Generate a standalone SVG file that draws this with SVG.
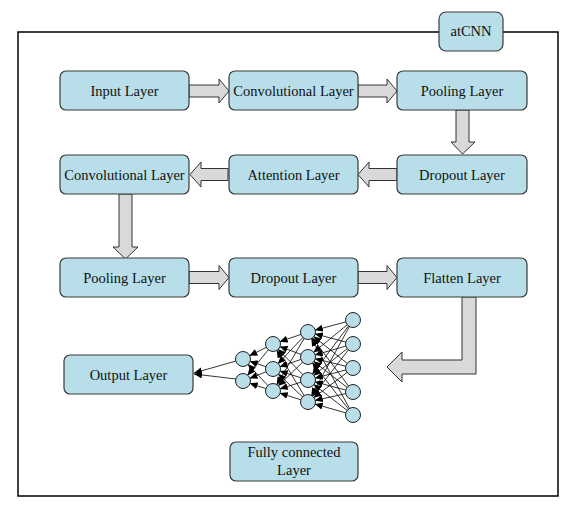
<svg xmlns="http://www.w3.org/2000/svg" width="582" height="509" viewBox="0 0 582 509">
<style>
.box{fill:#b8dfe9;stroke:#3a3a3a;stroke-width:1.2}
.lbl{font-family:"Liberation Serif","Times New Roman",serif;font-size:14.5px;fill:#111;text-anchor:middle}
.blk{fill:#d9d9d9;stroke:#333;stroke-width:1}
#nn-edges line{stroke:#000;stroke-width:0.8;marker-end:url(#nh)}
.o{stroke:#000;stroke-width:0.8;fill:none;marker-end:url(#oh)}
.n{fill:#b8dfe9;stroke:#222;stroke-width:1}
</style>
<defs>
<marker id="nh" markerUnits="userSpaceOnUse" markerWidth="10" markerHeight="8" refX="15" refY="3.5" orient="auto"><path d="M0,0 L8,3.5 L0,7 Z" fill="#000"/></marker>
<marker id="oh" markerUnits="userSpaceOnUse" markerWidth="10" markerHeight="8" refX="8" refY="3.5" orient="auto"><path d="M0,0 L8,3.5 L0,7 Z" fill="#000"/></marker>
</defs>
<rect x="0" y="0" width="582" height="509" fill="#fff"/>
<rect id="frame" x="18" y="32" width="540" height="464" fill="none" stroke="#000" stroke-width="1.5"/>
<g id="atcnn"><rect class="box" x="439" y="12" width="64" height="39" rx="7"/><text class="lbl" x="471" y="36">atCNN</text></g>

<g id="connectors">
<path class="blk" d="M189,85 H219 V79 L229,91 L219,103 V97 H189 Z"/>
<path class="blk" d="M358,85 H387 V79 L397,91 L387,103 V97 H358 Z"/>
<path class="blk" d="M456,110 V142 H451 L462.5,154 L475,142 H469 V110 Z"/>
<path class="blk" d="M397,168.5 H369 V162 L358,174.5 L369,187 V180.5 H397 Z"/>
<path class="blk" d="M228,168.5 H201 V162 L190,174.5 L201,187 V180.5 H228 Z"/>
<path class="blk" d="M119,194 V247 H113 L125.5,259 L138,247 H132 V194 Z"/>
<path class="blk" d="M189,271.5 H219 V265.5 L229,277.5 L219,289.5 V283.5 H189 Z"/>
<path class="blk" d="M358,271.5 H387 V265.5 L397,277.5 L387,289.5 V283.5 H358 Z"/>
<path class="blk" d="M462,297 V360 H402 V352 L387,367 L402,382 V374 H476 V297 Z"/>
</g>

<g id="input"><rect class="box" x="60" y="71" width="129" height="39" rx="6"/><text class="lbl" x="124.5" y="95.5">Input Layer</text></g>
<g id="conv1"><rect class="box" x="229" y="71" width="129" height="39" rx="6"/><text class="lbl" x="293.5" y="95.5">Convolutional Layer</text></g>
<g id="pool1"><rect class="box" x="397" y="71" width="130" height="39" rx="6"/><text class="lbl" x="462" y="95.5">Pooling Layer</text></g>
<g id="conv2"><rect class="box" x="60" y="155" width="129" height="39" rx="6"/><text class="lbl" x="124.5" y="179.5">Convolutional Layer</text></g>
<g id="attention"><rect class="box" x="229" y="155" width="129" height="39" rx="6"/><text class="lbl" x="293.5" y="179.5">Attention Layer</text></g>
<g id="drop1"><rect class="box" x="397" y="155" width="130" height="39" rx="6"/><text class="lbl" x="462" y="179.5">Dropout Layer</text></g>
<g id="pool2"><rect class="box" x="60" y="258" width="129" height="39" rx="6"/><text class="lbl" x="124.5" y="282.5">Pooling Layer</text></g>
<g id="drop2"><rect class="box" x="229" y="258" width="129" height="39" rx="6"/><text class="lbl" x="293.5" y="282.5">Dropout Layer</text></g>
<g id="flatten"><rect class="box" x="397" y="258" width="130" height="39" rx="6"/><text class="lbl" x="462" y="282.5">Flatten Layer</text></g>
<g id="output"><rect class="box" x="64" y="355" width="129" height="39" rx="6"/><text class="lbl" x="128.5" y="379.5">Output Layer</text></g>
<g id="fc"><rect class="box" x="230" y="442" width="128" height="39" rx="6"/><text class="lbl" x="294" y="457">Fully connected</text><text class="lbl" x="294" y="475">Layer</text></g>

<g id="nn-edges">
<line x1="353" y1="320" x2="308" y2="332"/><line x1="353" y1="320" x2="308" y2="357"/><line x1="353" y1="320" x2="308" y2="380"/><line x1="353" y1="320" x2="308" y2="402"/>
<line x1="353" y1="344" x2="308" y2="332"/><line x1="353" y1="344" x2="308" y2="357"/><line x1="353" y1="344" x2="308" y2="380"/><line x1="353" y1="344" x2="308" y2="402"/>
<line x1="353" y1="368" x2="308" y2="332"/><line x1="353" y1="368" x2="308" y2="357"/><line x1="353" y1="368" x2="308" y2="380"/><line x1="353" y1="368" x2="308" y2="402"/>
<line x1="353" y1="392" x2="308" y2="332"/><line x1="353" y1="392" x2="308" y2="357"/><line x1="353" y1="392" x2="308" y2="380"/><line x1="353" y1="392" x2="308" y2="402"/>
<line x1="353" y1="415" x2="308" y2="332"/><line x1="353" y1="415" x2="308" y2="357"/><line x1="353" y1="415" x2="308" y2="380"/><line x1="353" y1="415" x2="308" y2="402"/>
<line x1="308" y1="332" x2="273" y2="344"/><line x1="308" y1="332" x2="273" y2="369"/><line x1="308" y1="332" x2="273" y2="391"/>
<line x1="308" y1="357" x2="273" y2="344"/><line x1="308" y1="357" x2="273" y2="369"/><line x1="308" y1="357" x2="273" y2="391"/>
<line x1="308" y1="380" x2="273" y2="344"/><line x1="308" y1="380" x2="273" y2="369"/><line x1="308" y1="380" x2="273" y2="391"/>
<line x1="308" y1="402" x2="273" y2="344"/><line x1="308" y1="402" x2="273" y2="369"/><line x1="308" y1="402" x2="273" y2="391"/>
<line x1="273" y1="344" x2="243" y2="359"/><line x1="273" y1="344" x2="243" y2="381"/>
<line x1="273" y1="369" x2="243" y2="359"/><line x1="273" y1="369" x2="243" y2="381"/>
<line x1="273" y1="391" x2="243" y2="359"/><line x1="273" y1="391" x2="243" y2="381"/>
<path class="o" d="M236,361 L194,373"/>
<path class="o" d="M236,379 L194,374"/>
</g>
<g id="nn-nodes">
<circle class="n" cx="243" cy="359" r="7.5"/><circle class="n" cx="243" cy="381" r="7.5"/>
<circle class="n" cx="273" cy="344" r="7.5"/><circle class="n" cx="273" cy="369" r="7.5"/><circle class="n" cx="273" cy="391" r="7.5"/>
<circle class="n" cx="308" cy="332" r="7.5"/><circle class="n" cx="308" cy="357" r="7.5"/><circle class="n" cx="308" cy="380" r="7.5"/><circle class="n" cx="308" cy="402" r="7.5"/>
<circle class="n" cx="353" cy="320" r="7.5"/><circle class="n" cx="353" cy="344" r="7.5"/><circle class="n" cx="353" cy="368" r="7.5"/><circle class="n" cx="353" cy="392" r="7.5"/><circle class="n" cx="353" cy="415" r="7.5"/>
</g>
</svg>
